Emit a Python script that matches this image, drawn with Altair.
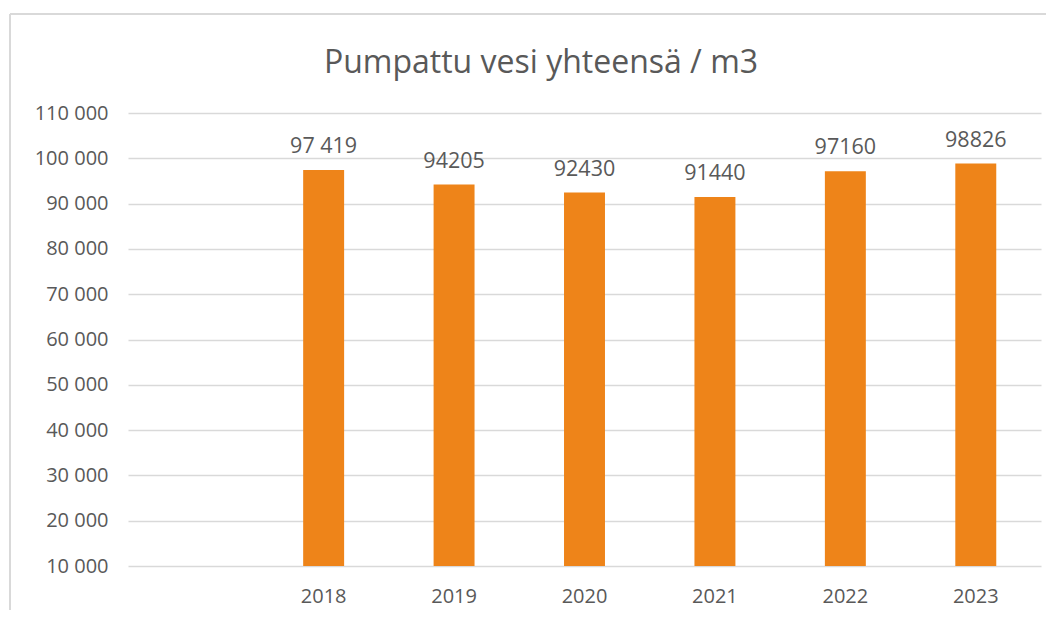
import altair as alt
import pandas as pd

title_text = "Pumpattu vesi yhteensä / m3"
categories = [" ", "2018", "2019", "2020", "2021", "2022", "2023"]
years = ["2018", "2019", "2020", "2021", "2022", "2023"]
values = [97419, 94205, 92430, 91440, 97160, 98826]
labels = ["97 419", "94205", "92430", "91440", "97160", "98826"]
y_ticks = [10000, 20000, 30000, 40000, 50000, 60000, 70000, 80000, 90000, 100000, 110000]

df = pd.DataFrame({"year": years, "value": values, "label": labels})
title_df = pd.DataFrame({"t": [title_text]})

FONT = "Open Sans"
GRAY = "#595959"

x = alt.X("year:N", scale=alt.Scale(domain=categories, paddingInner=0.686, paddingOuter=0.343),
          axis=alt.Axis(title=None, labelAngle=0, domain=False, ticks=False, labelPadding=20,
                        labelFontSize=20, labelColor=GRAY, labelFont=FONT))
y = alt.Y("value:Q", scale=alt.Scale(domain=[10000, 110000], nice=False, zero=False),
          axis=alt.Axis(title=None, values=y_ticks, domain=False, ticks=False, labelPadding=20,
                        labelFontSize=20, labelColor=GRAY, labelFont=FONT,
                        gridColor="#d9d9d9", gridWidth=1.6,
                        labelExpr="replace(format(datum.value, ','), /,/g, ' ')"))

bars = alt.Chart(df).mark_bar(color="#EE8419", clip=True).encode(
    x=x, y=y, y2=alt.datum(10000)
)

text = alt.Chart(df).mark_text(dy=-17, baseline="alphabetic", fontSize=21.5, color=GRAY,
                               font=FONT).encode(
    x=x, y=y, text="label:N"
)

title = alt.Chart(title_df).mark_text(fontSize=32, font=FONT, color=GRAY, baseline="middle",
                                      align="center").encode(
    x=alt.value(413), y=alt.value(-50), text="t:N"
)

frame_top = alt.Chart(df).mark_rule(color="#d9d9d9", strokeWidth=2).encode(
    x=alt.value(-118), x2=alt.value(1000), y=alt.value(-99)
)
frame_left = alt.Chart(df).mark_rule(color="#d9d9d9", strokeWidth=2).encode(
    x=alt.value(-118), y=alt.value(-99), y2=alt.value(600)
)

chart = alt.layer(frame_top, frame_left, title, bars, text).properties(
    width=913, height=453,
    autosize=alt.AutoSizeParams(type="none"),
    padding={"left": 120, "top": 105, "right": 5, "bottom": 44},
).configure_view(stroke=None)

chart.save("out.html", embed_options={"renderer": "svg", "actions": False})
